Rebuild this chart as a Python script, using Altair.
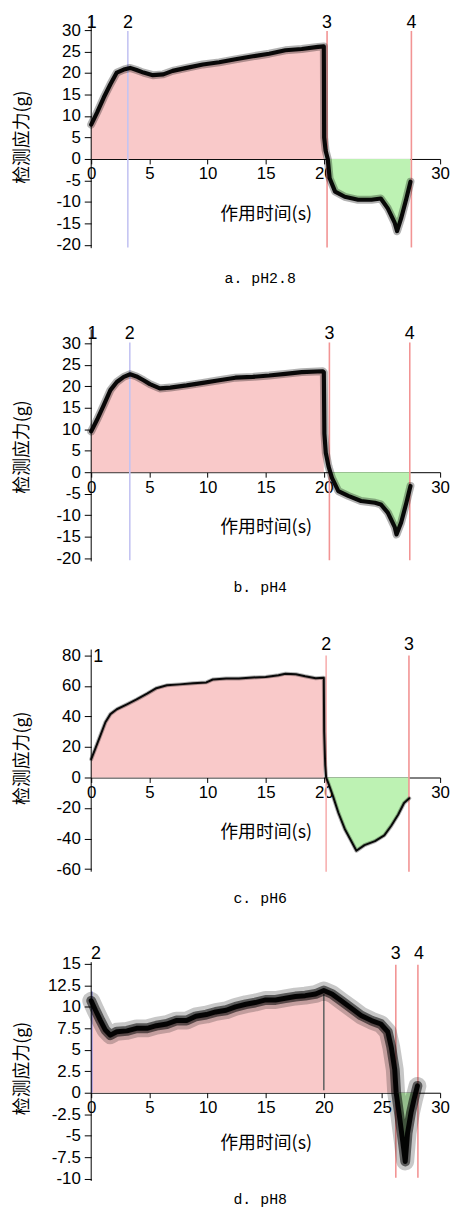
import altair as alt
import pandas as pd

X_TICKS = [0, 5, 10, 15, 20, 25, 30]
X_TITLE = "作用时间(s)"
Y_TITLE = "检测应力(g)"

# ---- panel a (pH2.8) ----
a_t = [0, 0.5, 1.08, 1.65, 2.2, 2.8, 3.35, 3.9, 4.5, 5.3, 6.2, 7.0, 8.2, 9.6, 11.0, 12.4, 13.9,
       15.3, 16.7, 18.1, 19.5, 20.0, 20.03, 20.15, 20.34, 20.5, 20.97, 21.8, 22.95, 24.1, 24.9,
       25.5, 26.1, 26.3, 26.65, 27.1, 27.45]
a_v = [8.0, 10.8, 14.3, 17.4, 20.1, 20.8, 21.2, 20.7, 20.1, 19.5, 19.7, 20.5, 21.2, 22.0, 22.5,
       23.2, 23.9, 24.5, 25.3, 25.6, 26.1, 26.2, 5.0, 2.0, 0.0, -4.5, -7.6, -8.8, -9.5, -9.5,
       -9.2, -11.5, -14.9, -16.8, -13.8, -9.2, -5.3]
a_yticks = [-20, -15, -10, -5, 0, 5, 10, 15, 20, 25, 30]
a_mark_t = [3.15, 20.28, 27.53]
a_mark_c = ["#c4c4f2", "#f29494", "#f29494"]
a_mark_top = [29.8, 29.8, 29.8]
a_mark_bot = [-20.6, -20.6, -20.6]
a_lab_t = [0.04, 3.15, 20.28, 27.53]
a_lab_v = [31.6, 31.6, 31.6, 31.6]
a_lab = ["1", "2", "3", "4"]

# ---- panel b (pH4) ----
b_t = [0, 0.5, 1.08, 1.65, 2.2, 2.8, 3.35, 3.9, 4.5, 5.05, 5.9, 6.8, 8.2, 9.6, 11.0, 12.4, 13.9,
       15.3, 16.7, 18.1, 19.9, 20.0, 20.05, 20.17, 20.4, 20.55, 20.7, 21.25, 22.1, 23.2, 24.4,
       24.9, 25.5, 26.1, 26.25, 26.65, 27.1, 27.45]
b_v = [9.5, 12.2, 15.6, 19.1, 21.0, 22.2, 22.8, 22.3, 21.4, 20.5, 19.5, 19.7, 20.2, 20.8, 21.4,
       22.0, 22.2, 22.5, 22.9, 23.3, 23.5, 23.3, 9.0, 4.5, 1.4, 0.0, -1.3, -4.4, -5.5, -6.7,
       -7.1, -7.5, -9.4, -12.8, -14.5, -11.7, -7.1, -3.2]
b_yticks = [-20, -15, -10, -5, 0, 5, 10, 15, 20, 25, 30]
b_mark_t = [3.32, 20.48, 27.39]
b_mark_c = ["#c4c4f2", "#f29494", "#f29494"]
b_mark_top = [30.2, 30.2, 30.2]
b_mark_bot = [-20.5, -20.5, -20.5]
b_lab_t = [0.1, 3.32, 20.48, 27.39]
b_lab_v = [32.1, 32.1, 32.1, 32.1]
b_lab = ["1", "2", "3", "4"]

# ---- panel c (pH6) ----
c_t = [0, 0.37, 0.8, 1.22, 1.65, 2.2, 3.07, 3.9, 4.8, 5.6, 6.5, 7.6, 8.75, 9.9, 10.45, 11.6,
       12.7, 13.9, 15.0, 16.1, 16.7, 17.6, 18.4, 19.3, 20.0, 20.03, 20.12, 20.2, 20.4, 20.8,
       21.25, 21.8, 22.4, 22.8, 23.5, 24.4, 25.2, 25.8, 26.4, 26.9, 27.35]
c_v = [12.0, 19.3, 27.8, 36.2, 41.5, 44.7, 47.9, 51.1, 54.9, 58.5, 60.4, 61.0, 61.7, 62.3, 64.2,
       64.8, 64.8, 65.5, 65.9, 67.0, 68.0, 67.6, 66.3, 65.0, 65.3, 30.0, 8.0, 0.0, -4.0, -12.5,
       -23.1, -33.7, -42.2, -48.0, -44.3, -41.7, -37.9, -31.6, -24.2, -16.7, -13.6]
c_yticks = [-60, -40, -20, 0, 20, 40, 60, 80]
c_mark_t = [20.2, 27.32]
c_mark_c = ["#f7b0b0", "#f29494"]
c_mark_top = [79.9, 79.9]
c_mark_bot = [-61.7, -61.7]
c_lab_t = [0.6, 20.2, 27.32]
c_lab_v = [79.0, 87.0, 87.0]
c_lab = ["1", "2", "3"]

# ---- panel d (pH8) ----
d_t = [0, 0.37, 0.8, 1.22, 1.65, 2.2, 3.07, 3.9, 4.8, 5.6, 6.5, 7.3, 8.2, 9.0, 9.9, 10.7, 11.6,
       12.4, 13.3, 14.1, 15.0, 15.85, 16.7, 17.56, 18.4, 19.3, 20.0, 20.7, 21.5, 22.4, 23.2,
       24.1, 24.9, 25.5, 25.8, 26.1, 26.22, 26.5, 26.8, 27.0, 27.2, 27.5, 27.75, 27.9, 28.05]
d_v = [10.7, 9.6, 8.4, 7.3, 6.7, 7.1, 7.2, 7.5, 7.5, 7.8, 8.0, 8.4, 8.4, 8.9, 9.1, 9.4, 9.6,
       10.0, 10.3, 10.5, 10.8, 10.8, 11.0, 11.2, 11.3, 11.5, 11.9, 11.5, 10.7, 9.8, 9.0, 8.4,
       8.0, 7.1, 5.3, 2.7, 0.0, -2.7, -5.8, -8.0, -4.7, -2.3, -0.8, 0.0, 0.8]
d_yticks = [-10, -7.5, -5, -2.5, 0, 2.5, 5, 7.5, 10, 12.5, 15]
d_mark_t = [0.05, 20.0, 26.19, 28.09]
d_mark_c = ["#8c8ce6", "#666666", "#f29494", "#f29494"]
d_mark_top = [11.8, 11.5, 14.9, 14.9]
d_mark_bot = [0.0, 0.3, -9.9, -9.9]
d_lab_t = [0.4, 26.19, 28.18]
d_lab_v = [16.2, 16.2, 16.2]
d_lab = ["2", "3", "4"]

PINK = "#f9c9c9"
GREEN = "#bdf2b3"


def panel(t, v, pink_end, green_start, green_end, ydom, yticks, height, xoff, ytitle_y,
          xtitle_y, mk_t, mk_c, mk_top, mk_bot, lb_t, lb_v, lb, caption, cap_off,
          strokes, axis_top):
    df = pd.DataFrame({"t": t, "v": v})
    pink = df[df.t <= pink_end]
    green = df[(df.t >= green_start) & (df.t <= green_end)]
    marks = pd.DataFrame({"t": mk_t, "v": mk_top, "v2": mk_bot, "c": mk_c})
    labs = pd.DataFrame({"t": lb_t, "v": lb_v, "txt": lb})
    yline = pd.DataFrame({"t": [0], "v": [axis_top], "v2": [ydom[0]]})

    xs = alt.Scale(domain=[0, 30], nice=False, zero=False)
    ys = alt.Scale(domain=ydom, nice=False, zero=False)
    X = alt.X("t:Q", scale=xs, title=X_TITLE, axis=alt.Axis(
        values=X_TICKS, offset=xoff, grid=False, domainColor="black", tickColor="black",
        tickSize=5, labelPadding=2, labelFont="Liberation Sans", labelFontSize=17,
        labelColor="black", labelFlush=False, labelOverlap=False, labelExpr="datum.value + ''",
        titleFont="Noto Sans CJK SC", titleFontSize=18, titleFontWeight="normal",
        titleColor="black", titleY=xtitle_y, titleBaseline="middle"))
    Y = alt.Y("v:Q", scale=ys, title=Y_TITLE, axis=alt.Axis(
        values=yticks, domain=False, grid=False, tickColor="black", tickSize=7,
        labelPadding=4, labelFont="Liberation Sans", labelFontSize=17, labelColor="black",
        labelExpr="datum.value + ''", labelOverlap=False, labelFlush=False,
        titleFont="Noto Sans CJK SC", titleFontSize=18, titleFontWeight="normal",
        titleColor="black", titleX=-69, titleY=ytitle_y, titleAngle=270,
        titleBaseline="middle", titleAlign="center"))

    layers = [
        alt.Chart(pink).mark_area(color=PINK).encode(x=X, y=Y, y2=alt.datum(0)),
        alt.Chart(green).mark_area(color=GREEN).encode(x=X, y=Y, y2=alt.datum(0)),
        alt.Chart(marks).mark_rule(strokeWidth=1.6).encode(
            x=X, y=Y, y2="v2:Q", color=alt.Color("c:N", scale=None)),
        alt.Chart(yline).mark_rule(color="black", strokeWidth=1).encode(x=X, y=Y, y2="v2:Q"),
    ]
    for w, op in strokes:
        layers.append(alt.Chart(df).mark_line(color="black", strokeWidth=w, opacity=op,
                                              strokeJoin="round", strokeCap="round")
                      .encode(x=X, y=Y))
    layers.append(alt.Chart(labs).mark_text(font="Liberation Sans", fontSize=18, color="black",
                                            baseline="middle", align="center").encode(
        x=X, y=Y, text="txt:N"))
    return alt.layer(*layers).properties(
        width=352, height=height,
        title=alt.TitleParams(caption, orient="bottom", anchor="middle", offset=cap_off,
                              dx=-5.5, font="Liberation Mono", fontSize=15,
                              fontWeight="normal", color="black"))


pa = panel(a_t, a_v, 20.0, 20.34, 27.45, [-20.77, 33.23], a_yticks, 234, -90, 121.5, 56,
           a_mark_t, a_mark_c, a_mark_top, a_mark_bot, a_lab_t, a_lab_v, a_lab,
           "a. pH2.8", 18, [(8, 0.3), (4.2, 0.95)], 33.23)
pb = panel(b_t, b_v, 20.0, 20.55, 27.45, [-20.77, 33.23], b_yticks, 234, -90, 118, 56,
           b_mark_t, b_mark_c, b_mark_top, b_mark_bot, b_lab_t, b_lab_v, b_lab,
           "b. pH4", 14, [(8, 0.3), (4.2, 0.95)], 33.23)
pc = panel(c_t, c_v, 20.0, 20.2, 27.35, [-61.7, 88.3], c_yticks, 231, -95, 116, 56,
           c_mark_t, c_mark_c, c_mark_top, c_mark_bot, c_lab_t, c_lab_v, c_lab,
           "c. pH6", 14, [(4, 0.3), (2.0, 0.95)], 83.8)
pd_ = panel(d_t, d_v, 26.22, 26.22, 27.9, [-10.27, 16.27], d_yticks, 230, -89, 116, 51,
            d_mark_t, d_mark_c, d_mark_top, d_mark_bot, d_lab_t, d_lab_v, d_lab,
            "d. pH8", 6, [(18, 0.22), (10, 0.55), (5, 0.95)], 15.2)

chart = alt.vconcat(pa, pb, pc, pd_, spacing=82, bounds="flush").properties(
    padding={"left": 14, "top": 9, "right": 4, "bottom": 4},
    background="white",
).configure_view(stroke=None)

chart.save("out.html", embed_options={"renderer": "svg", "actions": False})
